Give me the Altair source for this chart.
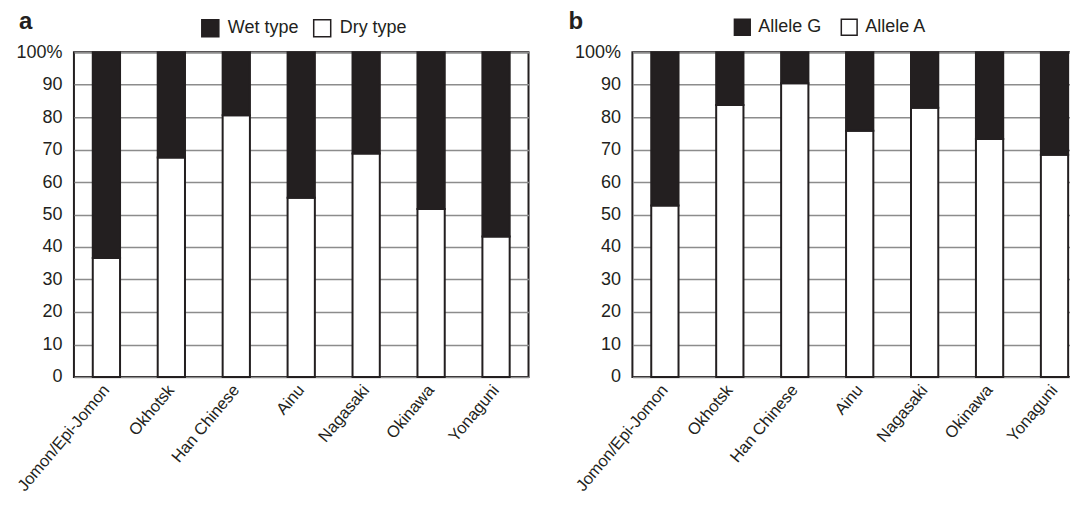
import altair as alt
import pandas as pd

FONT = "Liberation Sans"
INK = "#231f20"

groups = ["Jomon/Epi-Jomon", "Okhotsk", "Han Chinese", "Ainu", "Nagasaki", "Okinawa", "Yonaguni"]
dry_type = [36.6, 67.6, 80.6, 55.2, 68.8, 51.7, 43.2]       # panel a, white part (%)
allele_a = [52.8, 83.7, 90.4, 75.8, 82.9, 73.3, 68.4]       # panel b, white part (%)
legend_a = ["Wet type", "Dry type"]
legend_b = ["Allele G", "Allele A"]
y_ticks = [0, 10, 20, 30, 40, 50, 60, 70, 80, 90, 100]


def panel(letter, white_vals, names, legend_x, col_pad, lab_off, letter_dx, sym):
    rows = []
    for g, v in zip(groups, white_vals):
        rows.append({"group": g, "type": names[1], "y0": 0, "y1": v})
        rows.append({"group": g, "type": names[0], "y0": v, "y1": 100})
    df = pd.DataFrame(rows)

    x = alt.X(
        "group:N", sort=groups, title=None,
        scale=alt.Scale(paddingInner=0.58, paddingOuter=0.29),
        axis=alt.Axis(labelAngle=-50, labelFontSize=16.5, labelPadding=10, ticks=False,
                      domain=False, labelColor=INK, labelFont=FONT, grid=False),
    )
    y = alt.Y(
        "y0:Q", title=None,
        scale=alt.Scale(domain=[0, 100], nice=False),
        axis=alt.Axis(values=y_ticks,
                      labelExpr="datum.value == 100 ? '100%' : datum.label",
                      grid=True, gridColor="#8c8c8c", gridWidth=1.5, ticks=False,
                      domain=False, labelPadding=12, labelFontSize=18, labelFont=FONT,
                      labelColor=INK, minExtent=65, maxExtent=65),
    )
    bars = alt.Chart(df).mark_bar(stroke=INK, strokeWidth=2).encode(
        x=x, y=y, y2="y1:Q",
        color=alt.Color(
            "type:N",
            scale=alt.Scale(domain=names, range=[INK, "#ffffff"]),
            legend=alt.Legend(orient="none", legendX=legend_x, legendY=-34,
                              direction="horizontal", title=None, symbolType="square",
                              symbolSize=sym, symbolStrokeColor=INK, symbolStrokeWidth=1.5,
                              labelFontSize=18, labelFont=FONT, labelColor=INK,
                              columnPadding=col_pad, labelOffset=lab_off, padding=0),
        ),
    )
    label = alt.Chart(pd.DataFrame({"t": [letter]})).mark_text(
        font=FONT, fontSize=24, fontWeight="bold", color=INK, align="left",
        baseline="top",
    ).encode(text="t:N", x=alt.value(letter_dx), y=alt.value(-42))
    return alt.layer(bars, label).properties(width=455, height=325)


pa = panel("a", dry_type, legend_a, 127, 11, 8, -55, 290)
pb = panel("b", allele_a, legend_b, 101, 16, 7, -64, 250)

chart = alt.hconcat(pa, pb, spacing=37).resolve_scale(
    color="independent", x="independent"
).resolve_legend(color="independent").properties(
    padding={"left": 0, "top": 1, "right": -18, "bottom": 0}, background="white"
).configure_view(stroke=INK, strokeWidth=2)

chart.save("out.html", embed_options={"renderer": "svg", "actions": False})
